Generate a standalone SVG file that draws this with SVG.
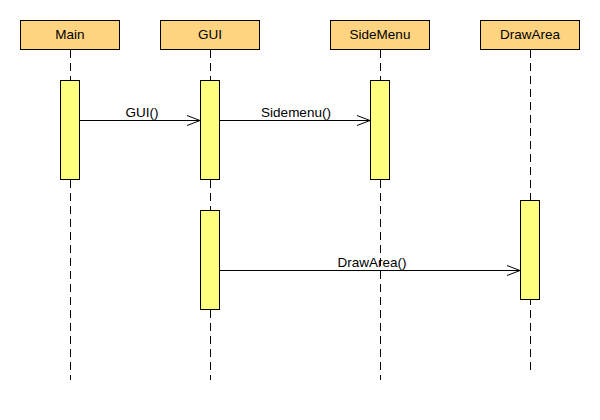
<svg xmlns="http://www.w3.org/2000/svg" width="600" height="420" viewBox="0 0 600 420">
<style>
.hdr{fill:#FFD480;stroke:#000;stroke-width:1}
.act{fill:#FFFF80;stroke:#000;stroke-width:1}
.life{stroke:#000;stroke-width:1;stroke-dasharray:8 5;fill:none}
.msg{stroke:#000;stroke-width:1;fill:none}
text{font-family:"Liberation Sans",Arial,sans-serif;font-size:13.5px;fill:#000;text-anchor:middle}
</style>
<defs>
<marker id="open" markerWidth="14" markerHeight="12" refX="13" refY="6" orient="auto" markerUnits="userSpaceOnUse">
<path d="M0,1 L13,6 L0,11" fill="none" stroke="#000" stroke-width="1"/>
</marker>
</defs>
<rect width="600" height="420" fill="#fff"/>
<g id="lifelines">
<line class="life" x1="70.5" y1="50" x2="70.5" y2="380"/>
<line class="life" x1="210.5" y1="50" x2="210.5" y2="380"/>
<line class="life" x1="380.5" y1="50" x2="380.5" y2="380"/>
<line class="life" x1="530.5" y1="50" x2="530.5" y2="370"/>
</g>
<g id="Main">
<rect class="hdr" x="20.5" y="20.5" width="99" height="29"/>
<text x="70" y="39">Main</text>
<rect class="act" x="60.5" y="80.5" width="19" height="99"/>
</g>
<g id="GUI">
<rect class="hdr" x="160.5" y="20.5" width="99" height="29"/>
<text x="210" y="39">GUI</text>
<rect class="act" x="200.5" y="80.5" width="19" height="99"/>
<rect class="act" x="200.5" y="210.5" width="19" height="99"/>
</g>
<g id="SideMenu">
<rect class="hdr" x="330.5" y="20.5" width="99" height="29"/>
<text x="380" y="39">SideMenu</text>
<rect class="act" x="370.5" y="80.5" width="19" height="99"/>
</g>
<g id="DrawArea">
<rect class="hdr" x="480.5" y="20.5" width="99" height="29"/>
<text x="530" y="39">DrawArea</text>
<rect class="act" x="520.5" y="200.5" width="19" height="99"/>
</g>
<g id="connectors">
<line class="msg" x1="80" y1="120.5" x2="200" y2="120.5" marker-end="url(#open)"/>
<text x="142" y="117">GUI()</text>
<line class="msg" x1="220" y1="120.5" x2="370" y2="120.5" marker-end="url(#open)"/>
<text x="296" y="117">Sidemenu()</text>
<line class="msg" x1="220" y1="270.5" x2="520" y2="270.5" marker-end="url(#open)"/>
<text x="372" y="267">DrawArea()</text>
</g>
</svg>
